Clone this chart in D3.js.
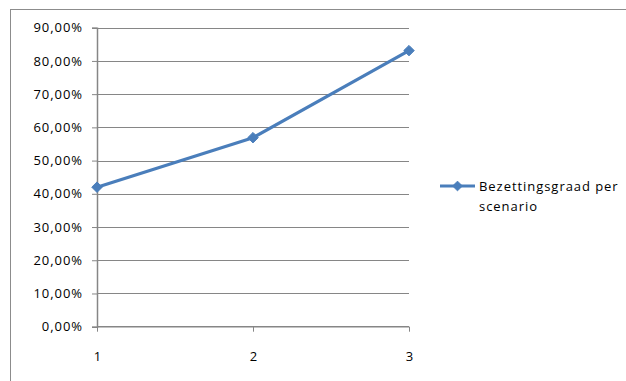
<!DOCTYPE html>
<html>
<head>
<meta charset="utf-8">
<script src="https://cdn.jsdelivr.net/npm/d3@7"></script>
<style>
  html, body { margin: 0; padding: 0; background: #fff; }
  svg { display: block; font-family: "Open Sans", sans-serif; }
</style>
</head>
<body>
<svg id="chart" width="626" height="381"></svg>
<script>
// Occupancy rate per scenario
const categories = ["1", "2", "3"];
const values = [0.42, 0.569, 0.831];
const yTicks = [0, 0.1, 0.2, 0.3, 0.4, 0.5, 0.6, 0.7, 0.8, 0.9];
const seriesName = ["Bezettingsgraad per", "scenario"];

const svg = d3.select("#chart");
const blue = "#4a7ebb";
const grid = "#868686";
const font = "'Open Sans', sans-serif";
const fontSize = "13px";
const spacing = "0.95px";

// Outer chart frame
svg.append("rect")
  .attr("x", 10.5).attr("y", 9.5)
  .attr("width", 640).attr("height", 400)
  .attr("fill", "none").attr("stroke", "#8c8c8c").attr("stroke-width", 1);

const plot = { left: 97, right: 409, top: 27.7, bottom: 326.7 };

const x = d3.scalePoint().domain(categories).range([plot.left, plot.right]);
const y = d3.scaleLinear().domain([0, 0.9]).range([plot.bottom, plot.top]);

const fmt = v => d3.format(".2f")(v * 100).replace(".", ",") + "%";

// Horizontal gridlines
svg.append("g").selectAll("line").data(yTicks.filter(t => t > 0)).join("line")
  .attr("x1", plot.left).attr("x2", plot.right)
  .attr("y1", d => Math.round(y(d)) + 0.5).attr("y2", d => Math.round(y(d)) + 0.5)
  .attr("stroke", grid).attr("stroke-width", 1);

// Y axis
const yAxis = svg.append("g")
  .attr("transform", `translate(${plot.left},0)`)
  .call(d3.axisLeft(y).tickValues(yTicks).tickFormat(fmt).tickSize(5).tickPadding(9));
yAxis.select(".domain").attr("stroke", grid).attr("stroke-width", 1.5);
yAxis.selectAll(".tick line").attr("stroke", grid);
yAxis.selectAll(".tick text").attr("fill", "#000").style("font-size", fontSize)
  .style("font-family", font).style("letter-spacing", spacing);

// X axis
const xAxis = svg.append("g")
  .attr("transform", `translate(0,${plot.bottom})`)
  .call(d3.axisBottom(x).tickSize(5).tickPadding(20));
xAxis.select(".domain").attr("stroke", grid).attr("stroke-width", 1.5)
  .attr("d", `M${plot.left},0H${plot.right}`);
xAxis.selectAll(".tick line").attr("stroke", grid);
xAxis.selectAll(".tick text").attr("fill", "#000").style("font-size", fontSize)
  .style("font-family", font);

// Series line
const line = d3.line().x((d, i) => x(categories[i])).y(d => y(d));
svg.append("path").datum(values)
  .attr("d", line)
  .attr("fill", "none").attr("stroke", blue).attr("stroke-width", 3.2)
  .attr("stroke-linejoin", "round");

// Diamond markers
const diamond = d3.symbol().type(d3.symbolDiamond2).size(70);
svg.append("g").selectAll("path").data(values).join("path")
  .attr("transform", (d, i) => `translate(${x(categories[i])},${y(d)})`)
  .attr("d", diamond)
  .attr("fill", blue).attr("stroke", blue).attr("stroke-width", 1);

// Legend
const lg = svg.append("g").attr("transform", "translate(440,186)");
lg.append("line").attr("x1", 0).attr("x2", 35).attr("y1", 0).attr("y2", 0)
  .attr("stroke", blue).attr("stroke-width", 3.2);
lg.append("path").attr("transform", "translate(17.5,0)")
  .attr("d", d3.symbol().type(d3.symbolDiamond2).size(60))
  .attr("fill", blue).attr("stroke", blue);
lg.append("text")
  .attr("x", 39).attr("y", 0)
  .style("font-size", fontSize).style("font-family", font)
  .style("letter-spacing", spacing).attr("fill", "#000")
  .selectAll("tspan").data(seriesName).join("tspan")
  .attr("x", 39).attr("dy", (d, i) => i === 0 ? "0.35em" : "20.5px")
  .text(d => d);
</script>
</body>
</html>
